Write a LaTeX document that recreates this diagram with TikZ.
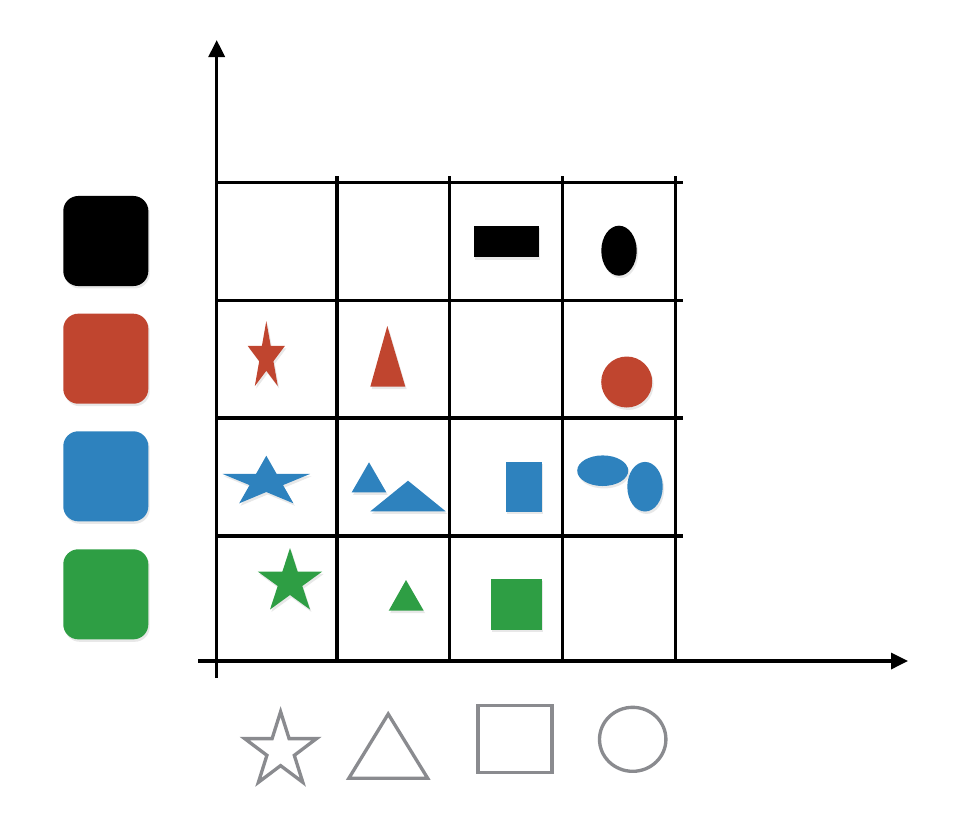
\documentclass[tikz,border=0pt]{standalone}
\usepackage{tikz}
\usetikzlibrary{arrows.meta}
\usetikzlibrary{shadows}

\definecolor{ShapeRed}{HTML}{C0452F}
\definecolor{ShapeBlue}{HTML}{2E82BE}
\definecolor{ShapeGreen}{HTML}{2E9E44}
\definecolor{OutlineGray}{HTML}{8A8B8F}

\begin{document}
\begin{tikzpicture}[x=0.01cm, y=-0.01cm,
  gridline/.style={line width=0.95pt, black},
  axis/.style={line width=0.95pt, black, -{Triangle[length=0.17cm, width=0.16cm]}},
  soft/.style={drop shadow={opacity=0.18, shadow xshift=0.4pt, shadow yshift=-0.7pt}},
  swatch/.style={minimum width=0.85cm, minimum height=0.9cm, inner sep=0pt, rounded corners=0.15cm, soft},
  outline/.style={line width=0.95pt, OutlineGray, line join=miter}]
\useasboundingbox (0,0) rectangle (974,824);

\node[swatch, fill=black] (swBlack) at (105.8,241) {};
\node[swatch, fill=ShapeRed] (swRed) at (105.8,358.7) {};
\node[swatch, fill=ShapeBlue] (swBlue) at (105.8,476.3) {};
\node[swatch, fill=ShapeGreen] (swGreen) at (105.8,594.3) {};

\coordinate (yBottom) at (216.7,678);
\coordinate (yTop) at (216.7,40);
\coordinate (xLeft) at (198,661);
\coordinate (xRight) at (908,661);

\draw[gridline] (216.7,182.5) -- (683,182.5);
\draw[gridline] (216.7,300.5) -- (683,300.5);
\draw[gridline] (216.7,418) -- (683,418);
\draw[gridline] (216.7,536) -- (683,536);
\draw[gridline] (337,176) -- (337,661);
\draw[gridline] (449.7,176) -- (449.7,661);
\draw[gridline] (562.3,176) -- (562.3,661);
\draw[gridline] (675.3,176) -- (675.3,661);

\draw[axis] (yBottom) -- (yTop);
\draw[axis] (xLeft) -- (xRight);

\fill[black, soft] (474,226) rectangle (538.7,257.3);
\fill[black, soft] (619,250.7) ellipse [x radius=17.7, y radius=25];

\fill[ShapeRed, soft] (266.3,321) -- (270.7,345.9) -- (284.9,345.9) -- (273.4,361.2) -- (277.8,386.1)
  -- (266.3,370.8) -- (254.8,386.1) -- (259.2,361.2) -- (247.7,345.9) -- (261.9,345.9) -- cycle;
\fill[ShapeRed, soft] (387.3,326) -- (405.3,386.7) -- (370.3,386.7) -- cycle;
\fill[ShapeRed, soft] (626.7,382) circle [radius=25.5];

\fill[ShapeBlue, soft] (266.3,455.7) -- (276.6,473.9) -- (310.1,473.9) -- (283.0,485.1) -- (293.4,503.3)
  -- (266.3,492.0) -- (239.2,503.3) -- (249.6,485.1) -- (222.5,473.9) -- (256.0,473.9) -- cycle;
\fill[ShapeBlue, soft] (369,462.3) -- (386.3,492.3) -- (351.7,492.3) -- cycle;
\fill[ShapeBlue, soft] (408,480.7) -- (445.7,511.3) -- (370.3,511.3) -- cycle;
\fill[ShapeBlue, soft] (506,461.7) rectangle (542,511.7);
\fill[ShapeBlue, soft] (602.7,470.7) ellipse [x radius=25.5, y radius=15.3];
\fill[ShapeBlue, soft] (645,486.7) ellipse [x radius=17.7, y radius=24.8];

\fill[ShapeGreen, soft] (290,548) -- (297.6,571.5) -- (322.3,571.5) -- (302.3,586) -- (310,609.5)
  -- (290,595) -- (270,609.5) -- (277.7,586) -- (257.7,571.5) -- (282.4,571.5) -- cycle;
\fill[ShapeGreen, soft] (406,580) -- (423.7,610.7) -- (388.7,610.7) -- cycle;
\fill[ShapeGreen, soft] (491,579) rectangle (542,629.7);

\draw[outline] (280.6,711.7) -- (289.1,738.6) -- (316.5,738.6) -- (294.3,755.3) -- (302.8,782.3)
  -- (280.6,765.6) -- (258.4,782.3) -- (266.9,755.3) -- (244.7,738.6) -- (272.1,738.6) -- cycle;
\draw[outline] (388.2,714) -- (427.7,778.3) -- (348.8,778.3) -- cycle;
\draw[outline] (478,705.7) rectangle (552,772.7);
\draw[outline] (632.7,739.3) ellipse [x radius=33.2, y radius=32];
\end{tikzpicture}
\end{document}
